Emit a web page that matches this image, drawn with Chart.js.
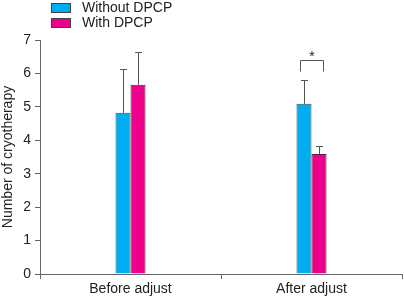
<!DOCTYPE html>
<html><head><meta charset="utf-8">
<script src="https://cdn.jsdelivr.net/npm/chart.js@4"></script>
<style>html,body{margin:0;padding:0;background:#fff}#wrap{width:404px;height:299px}</style>
</head><body><div id="wrap"><canvas id="c" width="404" height="299"></canvas></div>
<script>
const categories = ["Before adjust", "After adjust"];
const seriesNames = ["Without DPCP", "With DPCP"];
const withoutDPCP = [4.82, 5.09];
const withDPCP = [5.66, 3.59];
const withoutErr = [1.31, 0.71];
const withErr = [0.98, 0.23];
const yTicks = [0, 1, 2, 3, 4, 5, 6, 7];
const sigMark = "*";
const FONT = '"Liberation Sans", Arial, sans-serif';

const errPlugin = {
  id: 'errs',
  afterDatasetsDraw(chart) {
    const ctx = chart.ctx;
    const y = chart.scales.y;
    const errs = [withoutErr, withErr];
    ctx.save();
    ctx.strokeStyle = '#555';
    ctx.lineWidth = 1;
    chart.data.datasets.forEach((ds, di) => {
      const meta = chart.getDatasetMeta(di);
      meta.data.forEach((bar, i) => {
        const x = Math.round(bar.x) + 0.5;
        const top = y.getPixelForValue(ds.data[i] + errs[di][i]);
        const base = bar.y;
        ctx.beginPath();
        ctx.moveTo(x, base);
        ctx.lineTo(x, Math.round(top) + 0.5);
        ctx.moveTo(x - 3.5, Math.round(top) + 0.5);
        ctx.lineTo(x + 3.5, Math.round(top) + 0.5);
        ctx.stroke();
      });
    });
    // significance bracket over "After adjust"
    const b0 = chart.getDatasetMeta(0).data[1];
    const b1 = chart.getDatasetMeta(1).data[1];
    const x0 = Math.round(b0.x - 4) + 0.5, x1 = Math.round(b1.x + 4) + 0.5;
    const yt = Math.round(y.getPixelForValue(6.4)) + 0.5;
    const yb = Math.round(y.getPixelForValue(6.08)) + 0.5;
    ctx.beginPath();
    ctx.moveTo(x0, yb); ctx.lineTo(x0, yt); ctx.lineTo(x1, yt); ctx.lineTo(x1, yb);
    ctx.stroke();
    ctx.fillStyle = '#222';
    ctx.font = '14px ' + FONT;
    ctx.textAlign = 'center';
    ctx.textBaseline = 'middle';
    ctx.fillText(sigMark, (x0 + x1) / 2, yt - 3);
    // legend
    ctx.textAlign = 'left';
    chart.data.datasets.forEach((ds, di) => {
      const ly = 3 + di * 15;
      ctx.fillStyle = ds.backgroundColor;
      ctx.fillRect(51, ly, 20, 10);
      ctx.strokeStyle = '#444';
      ctx.strokeRect(51.5, ly + 0.5, 19, 9);
      ctx.fillStyle = '#222';
      ctx.fillText(ds.label, 82, ly + 5.5);
    });
    ctx.restore();
  }
};

new Chart(document.getElementById('c'), {
  type: 'bar',
  data: {
    labels: categories,
    datasets: [
      {label: seriesNames[0], data: withoutDPCP, backgroundColor: '#00AEEF', borderColor: '#3a4a55', borderWidth: 1},
      {label: seriesNames[1], data: withDPCP, backgroundColor: '#EC008C', borderColor: '#55203a', borderWidth: 1}
    ]
  },
  options: {
    responsive: false,
    animation: false,
    devicePixelRatio: 1,
    layout: {padding: {top: 40, right: 2, left: 0, bottom: 0}},
    datasets: {bar: {categoryPercentage: 0.166, barPercentage: 1}},
    plugins: {legend: {display: false}, tooltip: {enabled: false}},
    scales: {
      x: {
        grid: {drawOnChartArea: false, offset: true, tickLength: 5, color: '#666'},
        border: {color: '#666'},
        ticks: {color: '#222', font: {family: FONT, size: 14}, padding: 2},
        afterFit(s) { s.height = 25; }
      },
      y: {
        min: 0, max: 7,
        afterBuildTicks(s) { s.ticks = yTicks.map(v => ({value: v})); },
        grid: {drawOnChartArea: false, tickLength: 5, color: '#666'},
        border: {color: '#666'},
        ticks: {color: '#222', font: {family: FONT, size: 14}, padding: 4},
        title: {display: true, text: 'Number of cryotherapy', color: '#222', font: {family: FONT, size: 14}, padding: 0},
        afterFit(s) { s.width = 40; }
      }
    }
  },
  plugins: [errPlugin]
});
</script></body></html>
